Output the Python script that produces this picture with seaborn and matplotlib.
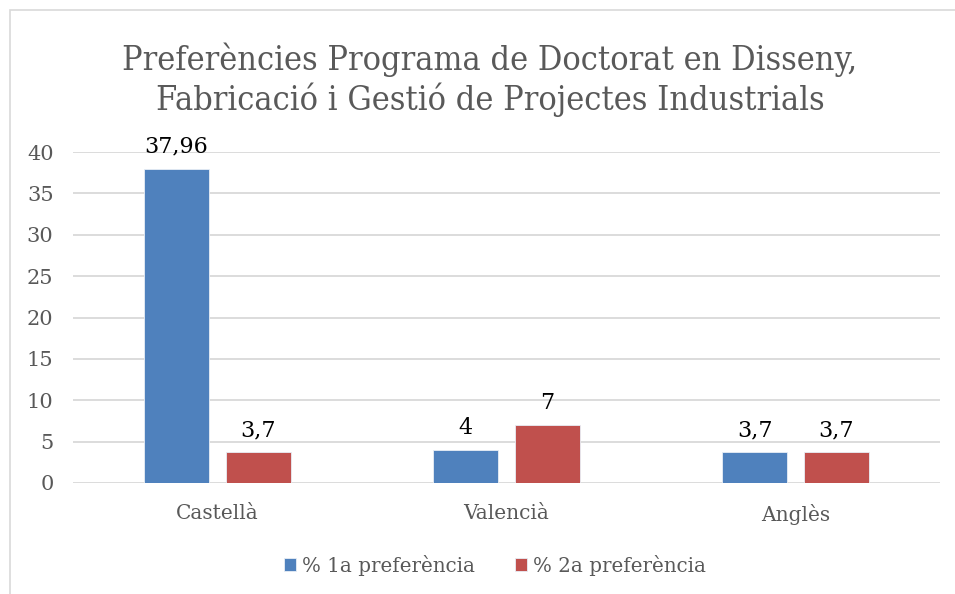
import matplotlib

matplotlib.use("Agg")
import matplotlib.pyplot as plt
import pandas as pd
import seaborn as sns
from matplotlib.patches import Rectangle

categories = ["Castellà", "Valencià", "Anglès"]
series = ["% 1a preferència", "% 2a preferència"]
first_pref = [37.96, 4, 3.7]
second_pref = [3.7, 7, 3.7]
value_labels = [["37,96", "4", "3,7"], ["3,7", "7", "3,7"]]
yticks = [0, 5, 10, 15, 20, 25, 30, 35, 40]

df = pd.DataFrame({
    "idioma": categories * 2,
    "serie": [series[0]] * 3 + [series[1]] * 3,
    "valor": first_pref + second_pref,
})

sns.set_theme(style="white")
plt.rcParams["font.family"] = ["DejaVu Serif", "Liberation Serif"]

fig = plt.figure(figsize=(9.55, 5.94), dpi=100)
ax = fig.add_axes([73 / 955, 1 - 483 / 594, 867 / 955, 331 / 594])
fig.patches.append(Rectangle((10 / 955, -0.1), 1.2, 1 - 10 / 594 + 0.1, transform=fig.transFigure,
                             fill=False, edgecolor="#D9D9D9", linewidth=1.2))

sns.barplot(data=df, x="idioma", y="valor", hue="serie", palette=["#4F81BD", "#C0504D"],
            saturation=1, width=0.567, gap=0.2, edgecolor="#e8eef6", linewidth=0.6,
            ax=ax, legend=True)

for cont, labels in zip(ax.containers, value_labels):
    ax.bar_label(cont, labels=labels, padding=8, fontsize=16, color="black")

ax.set_xlim(-0.5, 2.5)
ax.set_ylim(0, 40)
ax.set_yticks(yticks)
ax.grid(axis="y", color="#D9D9D9", linewidth=1.3)
ax.set_axisbelow(True)
for s in ax.spines.values():
    s.set_visible(False)
ax.tick_params(axis="both", length=0, labelsize=15, labelcolor="#595959")
ax.tick_params(axis="x", labelsize=14.5, pad=15)
ax.tick_params(axis="y", pad=14)
ax.set_xlabel("")
ax.set_ylabel("")

ax.legend(loc="center", bbox_to_anchor=(495 / 955, 1 - 565 / 594), bbox_transform=fig.transFigure,
          ncol=2, frameon=False, fontsize=14.3, handlelength=0.6, handleheight=0.6,
          handletextpad=0.3, columnspacing=2.0, labelcolor="#595959")

fig.text(0.513, 1 - 80 / 594, "Preferències Programa de Doctorat en Disseny,\nFabricació i Gestió de Projectes Industrials",
         ha="center", va="center", fontsize=24.5, color="#595959", fontstretch="condensed",
         linespacing=1.2)

fig.savefig("out.png", dpi=100, facecolor="white")
